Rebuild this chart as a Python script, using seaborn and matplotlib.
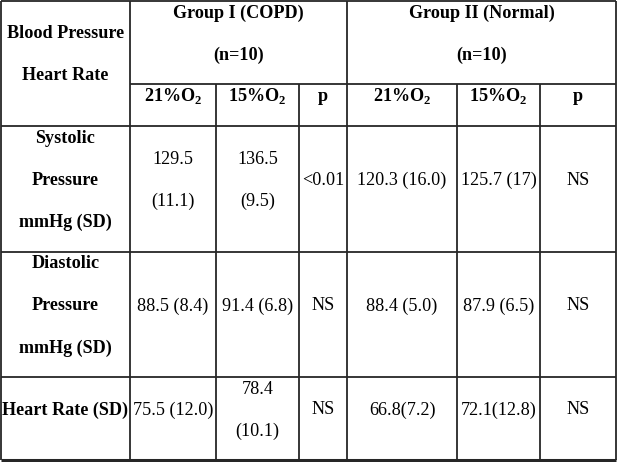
import matplotlib
matplotlib.use("Agg")
import matplotlib.pyplot as plt
import seaborn as sns

# Table content
corner_label = "Blood Pressure\nHeart Rate"
groups = ["Group I (COPD)\n(n=10)", "Group II (Normal)\n(n=10)"]
sub_headers = ["21%O$_{\\mathbf{2}}$", "15%O$_{\\mathbf{2}}$", "p",
               "21%O$_{\\mathbf{2}}$", "15%O$_{\\mathbf{2}}$", "p"]
row_labels = ["Systolic\nPressure\nmmHg (SD)",
              "Diastolic\nPressure\nmmHg (SD)",
              "Heart Rate (SD)"]
values = [
    ["129.5\n(11.1)", "136.5\n(9.5)", "<0.01", "120.3 (16.0)", "125.7 (17)", "NS"],
    ["88.5 (8.4)", "91.4 (6.8)", "NS", "88.4 (5.0)", "87.9 (6.5)", "NS"],
    ["75.5 (12.0)", "78.4\n(10.1)", "NS", "66.8(7.2)", "72.1(12.8)", "NS"],
]

sns.set_theme(style="white")
plt.rcParams['font.family'] = ['Liberation Serif', 'DejaVu Serif']
plt.rcParams['mathtext.fontset'] = 'custom'
plt.rcParams['mathtext.rm'] = 'Liberation Serif'
plt.rcParams['mathtext.bf'] = 'Liberation Serif:bold'

# grid geometry (pixels)
col_edges = [1, 130, 216, 299, 347, 457, 540, 616]
row_edges = [1, 84, 126, 252, 377, 460]
line_gap = 42
lift = 8.5
fs = 13.1
lc = '#262626'
lw = 1.3

fig = plt.figure(figsize=(6.17, 4.62), dpi=100)
ax = fig.add_axes([0, 0, 1, 1])
ax.set_xlim(0, 617)
ax.set_ylim(462, 0)
ax.axis('off')


def cell_text(x, y, txt, bold=False):
    lines = txt.split("\n")
    n = len(lines)
    for i, s in enumerate(lines):
        ax.text(x, y + (i - (n - 1) / 2) * line_gap, s, ha='center', va='center',
                fontsize=fs, fontweight='bold' if bold else 'normal', color='black')


# borders
for y in [row_edges[0], row_edges[2], row_edges[3], row_edges[4]]:
    ax.hlines(y, col_edges[0], col_edges[-1], color=lc, lw=lw)
ax.hlines(row_edges[1], col_edges[1], col_edges[-1], color=lc, lw=lw)
for x in [col_edges[0], col_edges[1], col_edges[4], col_edges[7]]:
    ax.vlines(x, row_edges[0], row_edges[-1], color=lc, lw=lw)
for x in [col_edges[2], col_edges[3], col_edges[5], col_edges[6]]:
    ax.vlines(x, row_edges[1], row_edges[-1], color=lc, lw=lw)
ax.hlines(row_edges[-1], col_edges[0], col_edges[-1], color=lc, lw=2.2)

# header
cell_text((col_edges[0] + col_edges[1]) / 2, (row_edges[0] + row_edges[2]) / 2 - lift,
          corner_label, bold=True)
cell_text((col_edges[1] + col_edges[4]) / 2, (row_edges[0] + row_edges[1]) / 2 - lift,
          groups[0], bold=True)
cell_text((col_edges[4] + col_edges[7]) / 2, (row_edges[0] + row_edges[1]) / 2 - lift,
          groups[1], bold=True)
for j, s in enumerate(sub_headers):
    cell_text((col_edges[j + 1] + col_edges[j + 2]) / 2,
              (row_edges[1] + row_edges[2]) / 2 - lift, s, bold=True)

# body
for i, lab in enumerate(row_labels):
    yc = (row_edges[i + 2] + row_edges[i + 3]) / 2 - lift
    cell_text((col_edges[0] + col_edges[1]) / 2, yc, lab, bold=True)
    for j, v in enumerate(values[i]):
        cell_text((col_edges[j + 1] + col_edges[j + 2]) / 2, yc, v)

fig.savefig("out.png", dpi=100, facecolor='white')
